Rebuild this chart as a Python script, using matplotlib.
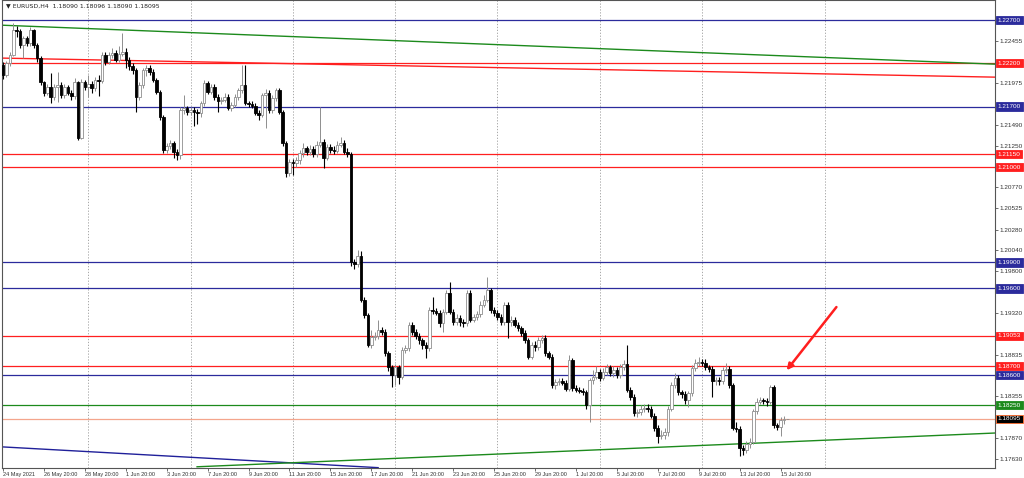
import numpy as np
import matplotlib
matplotlib.use("Agg")
import matplotlib.pyplot as plt

plt.rcParams['font.family'] = ['Liberation Sans', 'DejaVu Sans']

# EURUSD H4 candles (open of each bar = previous close)
first_open = 1.2218
closes = np.array([
    1.2206, 1.2220, 1.2230, 1.2258, 1.2257, 1.2241, 1.2249, 1.2243, 1.2258, 1.2241,
    1.2226, 1.2198, 1.2186, 1.2193, 1.2181, 1.2193, 1.2195, 1.2183, 1.2193, 1.2186,
    1.2182, 1.2198, 1.2134, 1.2198, 1.2193, 1.2196, 1.2191, 1.2201, 1.2200, 1.2230,
    1.2221, 1.2230, 1.2232, 1.2224, 1.2231, 1.2233, 1.2224, 1.2217, 1.2212, 1.2181,
    1.2195, 1.2212, 1.2215, 1.2210, 1.2201, 1.2187, 1.2158, 1.2120, 1.2125, 1.2128,
    1.2118, 1.2114, 1.2166, 1.2168, 1.2164, 1.2166, 1.2164, 1.2163, 1.2174, 1.2197,
    1.2187, 1.2193, 1.2181, 1.2176, 1.2178, 1.2181, 1.2168, 1.2172, 1.2181, 1.2189,
    1.2195, 1.2174, 1.2173, 1.2171, 1.2163, 1.2160, 1.2183, 1.2186, 1.2166, 1.2180,
    1.2189, 1.2164, 1.2128, 1.2093, 1.2106, 1.2105, 1.2108, 1.2116, 1.2122, 1.2118,
    1.2121, 1.2115, 1.2126, 1.2129, 1.2111, 1.2123, 1.2120, 1.2119, 1.2126, 1.2128,
    1.2118, 1.2115, 1.1990, 1.1988, 1.1997, 1.1947, 1.1929, 1.1895, 1.1904, 1.1905,
    1.1912, 1.1910, 1.1885, 1.1869, 1.1860, 1.1869, 1.1858, 1.1889, 1.1891, 1.1918,
    1.1910, 1.1905, 1.1900, 1.1895, 1.1891, 1.1935, 1.1934, 1.1932, 1.1920, 1.1933,
    1.1955, 1.1933, 1.1921, 1.1926, 1.1921, 1.1920, 1.1955, 1.1924, 1.1927, 1.1930,
    1.1941, 1.1947, 1.1958, 1.1935, 1.1932, 1.1927, 1.1921, 1.1941, 1.1921, 1.1924,
    1.1918, 1.1914, 1.1909, 1.1900, 1.1881, 1.1895, 1.1892, 1.1900, 1.1903, 1.1885,
    1.1881, 1.1848, 1.1852, 1.1853, 1.1851, 1.1844, 1.1877, 1.1845, 1.1843, 1.1842,
    1.1840, 1.1825, 1.1854, 1.1858, 1.1864, 1.1857, 1.1864, 1.1869, 1.1862, 1.1866,
    1.1860, 1.1869, 1.1873, 1.1843, 1.1835, 1.1816, 1.1817, 1.1821, 1.1822, 1.1821,
    1.1813, 1.1799, 1.1790, 1.1791, 1.1794, 1.1821, 1.1848, 1.1857, 1.1840, 1.1838,
    1.1831, 1.1839, 1.1868, 1.1874, 1.1875, 1.1874, 1.1869, 1.1867, 1.1853, 1.1854,
    1.1853, 1.1866, 1.1867, 1.1848, 1.1799, 1.1798, 1.1776, 1.1773, 1.1780, 1.1783,
    1.1818, 1.1829, 1.1831, 1.1830, 1.1829, 1.1846, 1.1802, 1.1800, 1.1808, 1.1809, 1.18095])
highs = np.array([
    1.2221, 1.2223, 1.2233, 1.2266, 1.2263, 1.2260, 1.2252, 1.2252, 1.2262, 1.2260,
    1.2244, 1.2228, 1.2200, 1.2196, 1.2209, 1.2196, 1.2210, 1.2198, 1.2196, 1.2195,
    1.2189, 1.2203, 1.2200, 1.2202, 1.2201, 1.2206, 1.2199, 1.2204, 1.2206, 1.2233,
    1.2233, 1.2233, 1.2238, 1.2235, 1.2240, 1.2255, 1.2238, 1.2227, 1.2220, 1.2214,
    1.2198, 1.2215, 1.2218, 1.2218, 1.2213, 1.2203, 1.2189, 1.2160, 1.2128, 1.2131,
    1.2130, 1.2121, 1.2169, 1.2183, 1.2171, 1.2170, 1.2170, 1.2167, 1.2177, 1.2201,
    1.2199, 1.2196, 1.2196, 1.2184, 1.2181, 1.2186, 1.2184, 1.2175, 1.2184, 1.2192,
    1.2218, 1.2218, 1.2176, 1.2176, 1.2174, 1.2166, 1.2186, 1.2190, 1.2189, 1.2183,
    1.2192, 1.2192, 1.2166, 1.2130, 1.2110, 1.2110, 1.2112, 1.2120, 1.2128, 1.2125,
    1.2126, 1.2124, 1.2130, 1.2169, 1.2132, 1.2127, 1.2127, 1.2124, 1.2130, 1.2135,
    1.2131, 1.2122, 1.2117, 1.1994, 1.2004, 1.2003, 1.1950, 1.1932, 1.1912, 1.1910,
    1.1924, 1.1916, 1.1913, 1.1888, 1.1872, 1.1873, 1.1872, 1.1892, 1.1895, 1.1921,
    1.1921, 1.1913, 1.1908, 1.1903, 1.1898, 1.1938, 1.1950, 1.1937, 1.1935, 1.1936,
    1.1958, 1.1967, 1.1936, 1.1930, 1.1929, 1.1925, 1.1958, 1.1958, 1.1931, 1.1934,
    1.1945, 1.1952, 1.1973, 1.1961, 1.1938, 1.1935, 1.1930, 1.1944, 1.1944, 1.1928,
    1.1927, 1.1921, 1.1917, 1.1912, 1.1903, 1.1898, 1.1899, 1.1904, 1.1906, 1.1906,
    1.1888, 1.1884, 1.1855, 1.1857, 1.1857, 1.1854, 1.1883, 1.1880, 1.1848, 1.1846,
    1.1845, 1.1843, 1.1857, 1.1866, 1.1870, 1.1867, 1.1868, 1.1873, 1.1872, 1.1870,
    1.1869, 1.1873, 1.1877, 1.1895, 1.1846, 1.1838, 1.1821, 1.1825, 1.1826, 1.1826,
    1.1824, 1.1816, 1.1802, 1.1796, 1.1799, 1.1824, 1.1852, 1.1862, 1.1860, 1.1843,
    1.1841, 1.1842, 1.1871, 1.1878, 1.1881, 1.1879, 1.1878, 1.1872, 1.1870, 1.1858,
    1.1858, 1.1869, 1.1874, 1.1870, 1.1851, 1.1806, 1.1801, 1.1779, 1.1784, 1.1787,
    1.1821, 1.1833, 1.1835, 1.1834, 1.1833, 1.1849, 1.1849, 1.1805, 1.1812, 1.1813, 1.18096])
lows = np.array([
    1.2202, 1.2204, 1.2217, 1.2228, 1.2250, 1.2238, 1.2226, 1.2240, 1.2240, 1.2238,
    1.2222, 1.2195, 1.2182, 1.2183, 1.2174, 1.2178, 1.2175, 1.2180, 1.2180, 1.2183,
    1.2178, 1.2179, 1.2131, 1.2132, 1.2189, 1.2181, 1.2186, 1.2188, 1.2182, 1.2197,
    1.2218, 1.2219, 1.2226, 1.2221, 1.2222, 1.2228, 1.2215, 1.2212, 1.2208, 1.2164,
    1.2178, 1.2192, 1.2205, 1.2206, 1.2198, 1.2184, 1.2155, 1.2116, 1.2116, 1.2121,
    1.2111, 1.2108, 1.2110, 1.2162, 1.2160, 1.2160, 1.2148, 1.2150, 1.2158, 1.2171,
    1.2184, 1.2184, 1.2178, 1.2164, 1.2173, 1.2175, 1.2166, 1.2165, 1.2170, 1.2178,
    1.2186, 1.2172, 1.2170, 1.2168, 1.2160, 1.2155, 1.2158, 1.2145, 1.2163, 1.2163,
    1.2177, 1.2161, 1.2125, 1.2089, 1.2090, 1.2091, 1.2100, 1.2104, 1.2112, 1.2114,
    1.2114, 1.2112, 1.2112, 1.2123, 1.2099, 1.2108, 1.2116, 1.2115, 1.2116, 1.2123,
    1.2115, 1.2112, 1.1986, 1.1983, 1.1985, 1.1944, 1.1926, 1.1892, 1.1891, 1.1900,
    1.1902, 1.1906, 1.1882, 1.1865, 1.1846, 1.1848, 1.1850, 1.1855, 1.1885, 1.1888,
    1.1906, 1.1902, 1.1896, 1.1890, 1.1880, 1.1888, 1.1930, 1.1929, 1.1916, 1.1910,
    1.1930, 1.1930, 1.1918, 1.1918, 1.1917, 1.1916, 1.1917, 1.1921, 1.1921, 1.1924,
    1.1927, 1.1938, 1.1944, 1.1932, 1.1928, 1.1924, 1.1918, 1.1918, 1.1903, 1.1917,
    1.1915, 1.1911, 1.1905, 1.1897, 1.1878, 1.1878, 1.1888, 1.1889, 1.1897, 1.1882,
    1.1878, 1.1845, 1.1844, 1.1849, 1.1848, 1.1841, 1.1841, 1.1842, 1.1840, 1.1839,
    1.1837, 1.1821, 1.1806, 1.1850, 1.1855, 1.1853, 1.1854, 1.1860, 1.1859, 1.1858,
    1.1856, 1.1857, 1.1866, 1.1840, 1.1831, 1.1813, 1.1812, 1.1814, 1.1817, 1.1817,
    1.1810, 1.1795, 1.1782, 1.1786, 1.1786, 1.1790, 1.1818, 1.1845, 1.1837, 1.1834,
    1.1827, 1.1823, 1.1836, 1.1865, 1.1870, 1.1870, 1.1866, 1.1863, 1.1835, 1.1849,
    1.1849, 1.1850, 1.1862, 1.1845, 1.1796, 1.1794, 1.1767, 1.1768, 1.1770, 1.1776,
    1.1780, 1.1815, 1.1826, 1.1826, 1.1824, 1.1826, 1.1799, 1.1796, 1.1790, 1.1803, 1.18090])
opens = np.concatenate([[first_open], closes[:-1]])

# bottom axis: bar index of each date label
date_ticks = [0, 12, 24, 36, 48, 60, 72, 84, 96, 108, 120, 132, 144, 156, 168, 180, 192, 204, 216, 228]
date_labels = ["24 May 2021", "26 May 20:00", "28 May 20:00", "1 Jun 20:00", "3 Jun 20:00",
               "7 Jun 20:00", "9 Jun 20:00", "11 Jun 20:00", "15 Jun 20:00", "17 Jun 20:00",
               "21 Jun 20:00", "23 Jun 20:00", "25 Jun 20:00", "29 Jun 20:00", "1 Jul 20:00",
               "5 Jul 20:00", "7 Jul 20:00", "9 Jul 20:00", "13 Jul 20:00", "15 Jul 20:00"]
grid_bars = [25, 55, 85, 115, 145, 175, 205, 241]

# right scale labels that are not covered by level boxes
price_ticks = [1.22455, 1.21975, 1.21490, 1.21250, 1.20770, 1.20525, 1.20280, 1.20040,
               1.19800, 1.19320, 1.18835, 1.18355, 1.17870, 1.17630]

# horizontal levels
blue_levels = [1.22700, 1.21700, 1.19900, 1.19600, 1.18600]
red_levels = [1.22200, 1.21150, 1.21000, 1.19053, 1.18700]
green_levels = [1.18250]
bid = 1.18095

# trend lines as (bar, price) endpoints
green_top = ([-0.3, 290.9], [1.2264, 1.2219])
red_slope = ([-0.3, 290.9], [1.2226, 1.2204])
blue_low = ([-0.3, 110.0], [1.1777, 1.1753])
green_low = ([56.9, 290.9], [1.1754, 1.1793])
arrow_tail = (244.9, 1.1941)
arrow_head = (229.3, 1.1863)

BLUE = '#2b2b9c'
RED = '#ff1f1f'
GREEN = '#1c8a1c'

fig = plt.figure(figsize=(10.24, 4.78), dpi=100)
ax = fig.add_axes([2 / 1024, 10 / 478, 993 / 1024, 468 / 478])
ax.set_xlim(-0.3, 290.9)
ax.set_ylim(1.17526, 1.22931)

for g in grid_bars:
    ax.axvline(g, color='#9a9a9a', lw=0.6, ls=(0, (1.5, 2)), zorder=0)

for lv in blue_levels:
    ax.axhline(lv, color=BLUE, lw=0.9, zorder=1)
for lv in red_levels:
    ax.axhline(lv, color=RED, lw=0.9, zorder=1)
for lv in green_levels:
    ax.axhline(lv, color=GREEN, lw=0.9, zorder=1)
ax.axhline(bid, color='#f4a58c', lw=0.9, zorder=1)

ax.plot(*green_top, color=GREEN, lw=1.0, zorder=1)
ax.plot(*red_slope, color=RED, lw=1.0, zorder=1)
ax.plot(*blue_low, color='#20209a', lw=1.0, zorder=1)
ax.plot(*green_low, color=GREEN, lw=1.0, zorder=1)

# candles
x = np.arange(len(closes))
up = closes >= opens
dn = ~up
ax.vlines(x[up], lows[up], highs[up], color='#8e8e8e', lw=0.7, zorder=2)
ax.vlines(x[dn], lows[dn], highs[dn], color='black', lw=0.8, zorder=2)
ax.bar(x[up], closes[up] - opens[up], bottom=opens[up], width=0.75,
       facecolor='white', edgecolor='#8e8e8e', lw=0.6, zorder=3)
ax.bar(x[dn], closes[dn] - opens[dn], bottom=opens[dn], width=0.75,
       facecolor='black', edgecolor='black', lw=0.6, zorder=3)

ax.annotate('', xy=arrow_head, xytext=arrow_tail,
            arrowprops=dict(arrowstyle='-|>', color=RED, lw=1.8, mutation_scale=9), zorder=5)

# axes look
for s in ax.spines.values():
    s.set_color('#555555')
    s.set_linewidth(0.8)
ax.yaxis.tick_right()
ax.set_yticks(price_ticks)
ax.set_yticklabels([f"{p:.5f}" for p in price_ticks])
ax.tick_params(axis='y', labelsize=4.6, length=2, width=0.5, pad=1.5, colors='#333333')
ax.set_xticks(date_ticks)
ax.set_xticklabels(date_labels, ha='left')
ax.tick_params(axis='x', labelsize=4.0, length=2, width=0.5, pad=1, colors='#333333')

# price boxes on the right scale
tr = ax.get_yaxis_transform()
boxes = [(lv, BLUE, BLUE) for lv in blue_levels] + [(lv, RED, RED) for lv in red_levels] + \
        [(lv, GREEN, GREEN) for lv in green_levels] + [(bid, 'black', '#ff6a2a')]
for lv, fc, ec in boxes:
    ax.text(1.003, lv, f"{lv:.5f}", transform=tr, fontsize=4.6, color='white', va='center', ha='left',
            clip_on=False, zorder=10,
            bbox=dict(boxstyle='square,pad=0.25', fc=fc, ec=ec, lw=0.6))

ax.text(0.004, 0.992, "\u25bc EURUSD,H4  1.18090 1.18096 1.18090 1.18095", transform=ax.transAxes,
        fontsize=4.4, va='top', ha='left', color='#222222', family=['DejaVu Sans'])

fig.savefig('out.png', dpi=100)
